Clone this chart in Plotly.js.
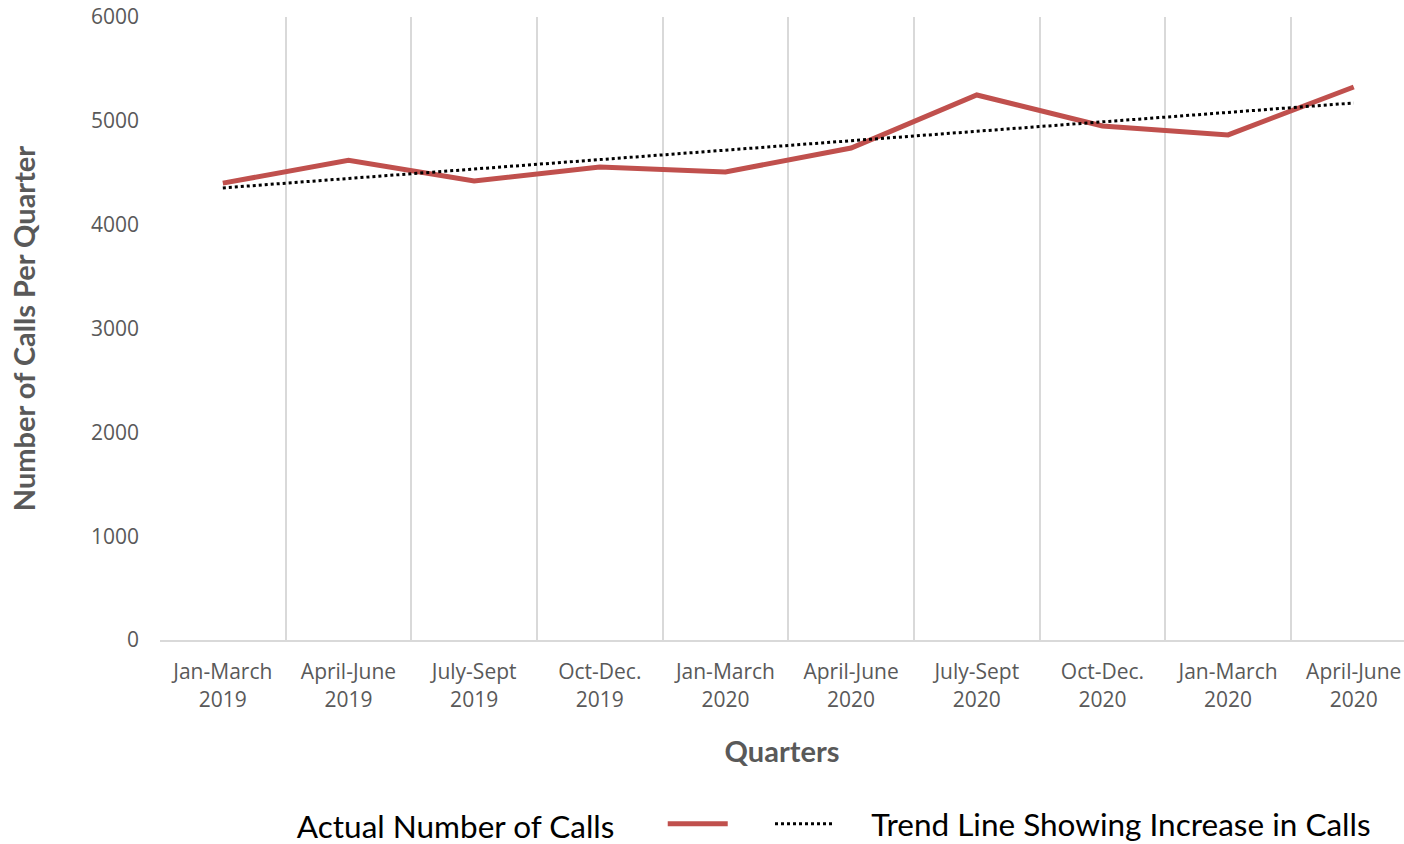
<!DOCTYPE html>
<html>
<head>
<meta charset="utf-8">
<script src="https://cdn.plot.ly/plotly-3.0.1.min.js"></script>
<style>html,body{margin:0;padding:0;background:#fff;}#chart{width:1404px;height:844px;}</style>
</head>
<body>
<div id="chart"></div>
<script>
const quarters = ["Jan-March<br>2019","April-June<br>2019","July-Sept<br>2019","Oct-Dec.<br>2019","Jan-March<br>2020","April-June<br>2020","July-Sept<br>2020","Oct-Dec.<br>2020","Jan-March<br>2020","April-June<br>2020"];
const calls = [4400, 4620, 4420, 4556, 4507, 4738, 5249, 4950, 4864, 5326];
const trendIdx = [0, 9];
const trendVals = [4354, 5172];
const yTicks = [0, 1000, 2000, 3000, 4000, 5000, 6000];

const idx = quarters.map((_, i) => i);
const bounds = quarters.map((_, i) => i - 0.5);
const nb = n => '\u00a0'.repeat(n);

const traces = [
  {x: idx, y: calls, type: 'scatter', mode: 'lines', name: nb(4),
   line: {color: '#C0504D', width: 5}, hoverinfo: 'y'},
  {x: trendIdx, y: trendVals, type: 'scatter', mode: 'lines', name: nb(4) + 'Trend Line Showing Increase in Calls',
   line: {color: '#000000', width: 3, dash: 'dot'}, hoverinfo: 'skip'},
  {x: [0], y: [null], xaxis: 'x2', showlegend: false, hoverinfo: 'skip', type: 'scatter', mode: 'lines'}
];

const layout = {
  width: 1404, height: 844,
  margin: {l: 160, r: 0, t: 17, b: 204},
  paper_bgcolor: '#fff', plot_bgcolor: '#fff',
  font: {family: 'Open Sans, sans-serif', color: '#595959'},
  xaxis: {
    range: [-0.5, 9.4], tickvals: idx, ticktext: quarters,
    showgrid: false, zeroline: false, showline: true, linecolor: '#d9d9d9', linewidth: 2,
    ticks: '', tickfont: {size: 21, color: '#595959'}, ticklabelstandoff: 12,
    title: {text: '<b>Quarters</b>', font: {family: 'Lato, sans-serif', size: 29, color: '#595959'}, standoff: 30}
  },
  xaxis2: {
    overlaying: 'x', matches: 'x', range: [-0.5, 9.4], tickvals: bounds,
    showticklabels: false, showgrid: true, gridcolor: '#d9d9d9', gridwidth: 2, zeroline: false, ticks: ''
  },
  yaxis: {
    range: [0, 6000], tickvals: yTicks, showgrid: false, zeroline: false, showline: false,
    ticks: '', tickfont: {size: 21, color: '#595959'}, ticklabelstandoff: 20,
    title: {text: '<b>Number of Calls Per Quarter</b>', font: {family: 'Lato, sans-serif', size: 29, color: '#595959'}, standoff: 46}
  },
  showlegend: true,
  legend: {
    orientation: 'h', xref: 'container', yref: 'container', x: 0.21, y: 0.024,
    xanchor: 'left', yanchor: 'middle',
    font: {family: 'Lato, sans-serif', size: 31.5, color: '#000'},
    title: {text: 'Actual Number of Calls' + nb(5), side: 'left', font: {family: 'Lato, sans-serif', size: 31.5, color: '#000'}},
    itemwidth: 60
  }
};

Plotly.newPlot('chart', traces, layout, {displayModeBar: false, staticPlot: true});
</script>
</body>
</html>
